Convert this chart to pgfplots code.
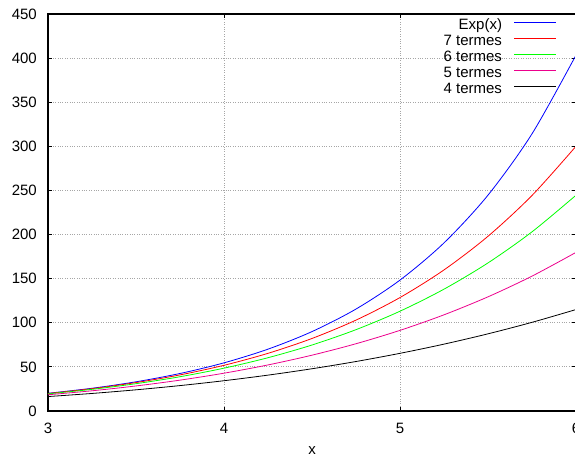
\documentclass[border=0pt]{standalone}
\usepackage{pgfplots}
\pgfplotsset{compat=1.18}
\usepackage{fontspec}
\setmainfont{Liberation Sans}
\begin{document}
\begin{tikzpicture}[x=1pt,y=1pt]
\begin{axis}[
  at={(0,0)}, anchor=south west,
  scale only axis, width=528pt, height=397pt,
  xmin=3, xmax=6, ymin=0, ymax=450,
  xtick={3,4,5,6}, ytick={0,50,...,450},
  minor tick num=0,
  tick align=inside, major tick length=4pt,
  tick style={black, line width=0.8pt},
  axis line style={black, line width=1.5pt},
  grid=major,
  major grid style={gray!70, dotted, line width=1pt},
  font=\fontsize{15}{17}\selectfont,
  /pgf/number format/assume math mode=true,
  xticklabel style={anchor=base, yshift=-22pt, inner sep=0pt},
  yticklabel style={anchor=east, inner sep=0pt, xshift=-11pt},
  xlabel={x},
  xlabel style={at={(rel axis cs:0.5,0)}, anchor=base, yshift=-43pt, inner sep=0pt},
  legend plot pos=right,
  legend cell align=right,
  legend style={at={(rel axis cs:1,1)}, anchor=north east, xshift=-19pt, yshift=-4pt,
    draw=none, fill=none, inner sep=0pt, row sep=0pt, column sep=12pt,
    nodes={inner sep=0pt, text height=11pt, text depth=5pt},
    font=\fontsize{15}{16}\selectfont},
  legend image code/.code={\draw[#1] (0pt,4pt) -- (42pt,4pt);},
  every axis plot/.append style={line width=0.8pt, smooth, no marks},
]
\addplot[blue] coordinates {(3,20.0855) (3.25,25.7903) (3.5,33.1155) (3.75,42.5211) (4,54.5982) (4.25,70.1054) (4.5,90.0171) (4.75,115.5843) (5,148.4132) (5.25,190.5663) (5.5,244.6919) (5.75,314.1907) (6,403.4288)};
\addlegendentry{Exp(x)}
\addplot[red] coordinates {(3,19.846) (3.25,25.3194) (3.5,32.2300) (3.75,40.9214) (4,51.8063) (4.25,65.3781) (4.5,82.2229) (4.75,103.0323) (5,128.6190) (5.25,159.9321) (5.5,198.0745) (5.75,244.3219) (6,300.1143)};
\addlegendentry{7 termes}
\addplot[green] coordinates {(3,19.4125) (3.25,24.5595) (3.5,30.9534) (3.75,38.8523) (4,48.5556) (4.25,60.4089) (4.5,74.8088) (4.75,92.2074) (5,113.1181) (5.25,138.1207) (5.5,167.8675) (5.75,203.0889) (6,244.6)};
\addlegendentry{6 termes}
\addplot[magenta] coordinates {(3,18.4) (3.25,22.9228) (3.5,28.4003) (3.75,34.9899) (4,42.8667) (4.25,52.2242) (4.5,63.2758) (4.75,76.2549) (5,91.4167) (5.25,109.0387) (5.5,129.4221) (5.75,152.8923) (6,179.8)};
\addlegendentry{5 termes}
\addplot[black] coordinates {(3,16.375) (3.25,19.9012) (3.5,24.0234) (3.75,28.8101) (4,34.3333) (4.25,40.6694) (4.5,47.8984) (4.75,56.1043) (5,65.375) (5.25,75.8022) (5.5,87.4818) (5.75,100.5132) (6,115)};
\addlegendentry{4 termes}
\end{axis}
\pgfresetboundingbox
\path[use as bounding box] (-48,-48) rectangle (527,411);
\end{tikzpicture}
\end{document}
